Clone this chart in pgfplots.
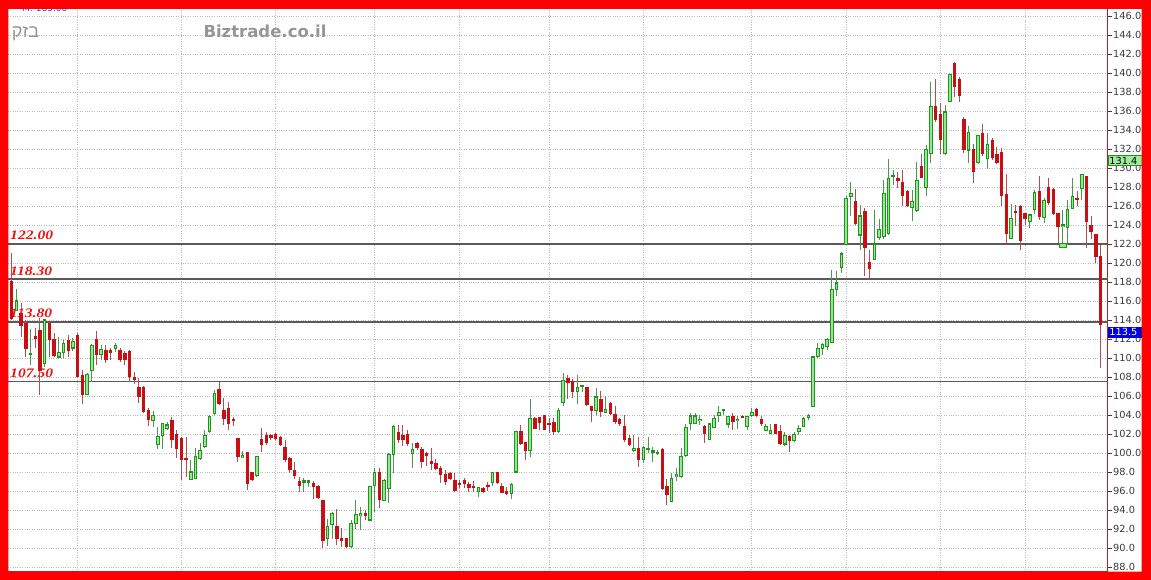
\documentclass[border=0pt]{standalone}
\usepackage{pgfplots}
\pgfplotsset{compat=1.18}
\usepackage{pgfplotstable}
\usepackage{fontspec}
\setmainfont{DejaVu Sans}
\newfontfamily\levelfont[FakeStretch=1.2]{Liberation Serif}
\newfontfamily\hebfont[Script=Hebrew]{Liberation Sans}
\TeXXeTstate=1
\definecolor{upfill}{RGB}{150,230,150}
\definecolor{upedge}{RGB}{30,150,30}
\definecolor{downfill}{RGB}{200,15,20}
\definecolor{wickred}{RGB}{170,80,80}
\definecolor{wickgreen}{RGB}{80,150,80}
\definecolor{gridgray}{RGB}{185,185,185}
\definecolor{levelgray}{RGB}{90,90,90}
\definecolor{axisred}{RGB}{200,30,30}
\definecolor{tickgray}{RGB}{60,60,60}
\definecolor{levelred}{RGB}{235,20,20}
\definecolor{borderred}{RGB}{255,0,0}
\definecolor{wmgray}{RGB}{150,150,150}
\definecolor{boxgreen}{RGB}{160,235,160}
\definecolor{boxblue}{RGB}{0,0,225}

\pgfplotstableread{
k o h l c
0 118.1 121.1 114.0 114.2
1 115.0 117.3 114.9 116.0
2 114.7 115.8 112.2 113.4
3 113.6 114.0 110.1 111.0
4 110.4 113.1 109.3 110.5
5 112.3 113.2 111.0 112.0
6 112.9 114.2 106.1 108.7
7 109.4 114.0 109.1 114.0
8 113.6 113.8 110.1 111.9
9 111.9 112.6 110.1 110.3
10 110.1 112.2 110.0 110.6
11 110.6 111.9 110.0 111.5
12 111.8 112.4 110.1 110.8
13 111.05 112.1 110.7 111.7
14 112.4 112.6 107.9 108.0
15 108.2 108.7 105.2 106.2
16 106.2 108.4 106.1 108.3
17 108.7 111.5 107.5 111.3
18 111.9 112.8 109.3 110.4
19 110.4 111.4 109.8 110.9
20 110.8 111.4 109.5 109.8
21 110.8 111.0 109.8 110.6
22 111.0 111.6 110.6 111.3
23 110.8 111.0 109.6 109.8
24 110.5 110.7 109.3 109.8
25 110.7 110.8 107.5 108.0
26 108.0 108.5 107.3 107.7
27 106.9 107.9 105.3 105.9
28 106.9 107.0 104.2 104.35
29 104.5 104.7 102.8 103.5
30 103.4 104.4 102.7 103.9
31 100.85 102.7 100.4 101.7
32 101.8 103.2 100.4 103.1
33 102.55 103.3 102.4 102.95
34 103.4 103.8 100.5 101.4
35 101.9 102.4 99.45 100.5
36 101.55 101.7 97.2 99.3
37 99.4 101.7 97.5 99.3
38 97.2 99.3 97.2 98.0
39 97.3 100.5 97.3 99.6
40 99.45 101.0 99.3 100.25
41 100.7 102.4 100.5 101.8
42 102.25 104.0 102.1 103.8
43 104.2 106.6 104.0 106.3
44 106.7 107.44 105.05 105.2
45 104.5 105.75 102.95 103.65
46 104.7 105.4 102.4 103.1
47 103.55 103.75 102.8 103.45
48 101.55 101.6 99.0 99.6
49 99.55 100.25 99.5 99.7
50 100.0 100.1 96.1 96.8
51 97.9 98.0 97.1 97.2
52 97.6 99.7 97.5 99.6
53 101.45 102.6 100.15 100.85
54 101.8 102.25 100.85 101.1
55 101.8 102.0 101.35 101.6
56 101.9 102.15 101.4 101.55
57 101.6 101.8 100.7 100.85
58 100.6 101.4 99.1 99.3
59 99.45 99.6 97.9 98.3
60 98.2 99.1 97.3 97.6
61 97.0 97.5 95.9 96.6
62 96.95 97.35 95.9 97.05
63 96.95 97.15 96.45 97.05
64 96.8 97.0 95.2 96.45
65 96.5 96.6 95.2 95.3
66 94.98 95.05 89.95 90.8
67 91.0 93.1 90.2 92.3
68 92.5 93.8 90.9 93.65
69 92.25 94.1 90.3 91.0
70 91.0 92.05 90.1 90.8
71 91.0 91.05 90.0 90.2
72 90.2 92.95 89.95 92.6
73 92.6 95.05 92.0 93.5
74 93.4 94.35 91.9 93.6
75 93.65 94.0 92.95 93.4
76 92.95 96.55 92.9 96.5
77 96.6 98.4 93.8 97.9
78 97.9 98.4 94.2 95.05
79 95.0 97.3 94.9 97.1
80 96.3 99.97 94.7 99.8
81 99.8 102.95 97.9 102.8
82 102.14 102.95 101.0 101.44
83 101.86 102.95 100.7 101.37
84 101.9 102.4 100.7 100.95
85 99.9 101.0 98.4 100.4
86 101.0 101.2 100.3 100.6
87 100.4 100.6 98.4 99.1
88 99.9 100.1 98.6 99.75
89 99.1 100.5 98.2 98.9
90 98.9 99.4 98.2 98.4
91 98.4 98.6 96.8 97.7
92 97.7 98.2 96.6 97.0
93 97.8 98.0 97.2 97.3
94 97.1 97.9 95.9 96.1
95 96.75 97.2 96.3 96.7
96 97.1 97.35 96.3 96.8
97 96.7 96.95 95.9 96.4
98 96.5 97.1 95.9 96.4
99 95.9 96.45 95.4 96.4
100 96.3 96.45 95.8 95.9
101 96.55 96.95 96.0 96.5
102 96.9 98.0 96.5 97.9
103 97.9 98.0 96.7 96.9
104 96.5 96.8 95.75 95.8
105 95.9 96.45 95.6 95.75
106 95.7 96.8 95.2 96.7
107 98.0 102.35 98.0 102.3
108 102.3 102.95 100.85 100.95
109 101.1 101.2 99.3 100.25
110 100.25 105.65 99.6 103.65
111 103.65 103.8 102.5 102.6
112 103.75 103.8 102.4 103.2
113 103.9 103.95 102.4 102.5
114 103.1 103.65 102.1 102.95
115 103.2 103.65 101.9 102.25
116 102.25 104.7 102.14 104.5
117 105.3 108.4 104.9 107.6
118 107.86 108.2 105.65 107.4
119 107.5 107.75 105.75 106.5
120 106.5 108.2 105.2 106.9
121 107.0 107.2 106.45 107.05
122 106.9 106.98 104.9 105.05
123 104.9 104.95 103.3 104.5
124 104.5 106.8 104.0 105.9
125 105.6 106.56 103.8 104.35
126 104.25 106.0 104.2 104.6
127 105.2 105.4 104.0 104.1
128 104.0 104.9 103.0 103.3
129 103.5 103.65 102.85 103.1
130 102.8 104.0 101.2 101.4
131 101.55 101.9 100.7 100.85
132 100.25 101.9 100.15 100.5
133 100.5 101.65 98.5 99.3
134 99.3 100.7 98.9 100.6
135 100.35 101.65 99.95 100.45
136 100.1 100.6 99.1 100.2
137 99.95 100.3 99.8 100.05
138 100.4 100.5 96.1 96.3
139 96.5 97.3 94.5 95.6
140 94.9 97.9 94.8 97.3
141 97.5 98.4 97.1 97.7
142 97.5 100.5 97.4 99.6
143 99.7 103.1 99.6 102.7
144 103.1 104.25 102.4 103.9
145 103.1 104.2 103.05 103.9
146 103.4 104.0 102.95 103.55
147 102.8 102.95 101.1 102.0
148 101.4 103.1 101.35 103.05
149 102.7 104.0 102.6 103.65
150 104.0 104.9 103.3 104.25
151 104.45 104.6 104.0 104.55
152 103.05 103.9 102.6 103.8
153 103.8 104.2 102.4 103.3
154 103.4 103.9 102.5 103.55
155 103.85 104.0 103.65 103.75
156 102.8 103.9 102.4 103.8
157 103.9 104.7 103.8 104.25
158 104.6 104.7 103.75 103.9
159 103.5 103.85 102.8 103.05
160 102.35 103.1 102.3 102.8
161 102.1 103.05 102.0 102.4
162 102.95 103.1 102.05 102.1
163 102.25 102.95 100.85 100.95
164 100.95 102.25 100.75 101.8
165 101.7 101.9 100.1 101.3
166 101.3 102.25 101.2 101.9
167 102.25 102.95 101.9 102.6
168 102.8 103.8 102.7 103.65
169 103.75 104.1 103.45 103.95
170 104.9 110.2 104.9 110.1
171 110.2 111.6 109.96 111.0
172 111.0 111.6 110.3 111.4
173 111.2 112.1 110.8 111.9
174 111.6 119.3 111.55 117.2
175 117.2 119.2 116.5 117.9
176 119.5 121.2 118.9 120.95
177 121.9 127.0 121.9 126.8
178 127.05 128.5 124.9 127.3
179 126.5 127.75 124.0 124.2
180 122.95 126.1 121.4 124.95
181 125.4 125.8 118.6 121.65
182 120.1 121.4 118.3 119.4
183 120.4 125.6 120.3 122.0
184 122.7 124.6 122.4 123.5
185 122.8 128.7 122.5 127.3
186 123.1 130.9 122.95 128.9
187 129.1 129.8 128.2 129.2
188 128.9 129.6 127.9 128.7
189 128.45 129.8 126.0 127.05
190 127.5 127.7 125.9 126.1
191 125.86 127.7 124.45 126.45
192 125.5 130.6 125.4 128.7
193 130.2 131.5 128.9 129.0
194 127.96 132.4 127.0 131.96
195 131.5 139.1 130.5 136.45
196 136.45 139.4 134.8 135.05
197 135.6 136.8 131.5 132.95
198 131.5 136.6 131.4 135.9
199 137.0 139.9 136.9 139.8
200 141.0 141.2 137.5 138.6
201 139.3 139.6 136.9 137.6
202 135.12 135.4 131.6 131.9
203 131.9 134.4 130.5 133.7
204 131.96 132.5 128.4 129.6
205 130.6 133.5 130.4 133.4
206 133.65 134.6 131.3 131.5
207 131.0 133.65 129.9 132.5
208 132.9 133.2 130.8 131.1
209 131.4 132.2 130.4 130.6
210 131.6 132.1 126.0 127.05
211 127.16 129.4 122.14 123.1
212 122.6 126.2 122.5 124.7
213 125.45 126.1 123.9 125.35
214 125.9 126.1 121.4 122.4
215 125.16 125.2 124.0 124.7
216 124.35 125.2 123.65 125.05
217 125.6 127.7 125.2 127.4
218 127.5 129.2 124.5 124.9
219 124.8 126.8 124.2 126.56
220 127.96 128.9 126.1 126.35
221 127.75 127.85 125.05 125.16
222 125.16 125.2 122.1 123.8
223 123.8 125.6 121.9 124.0
224 123.75 126.6 121.9 125.65
225 125.75 128.9 125.65 126.98
226 126.75 127.6 126.0 126.65
227 127.86 129.3 126.6 129.3
228 129.1 129.1 121.55 124.35
229 124.0 124.9 122.5 123.3
230 122.95 123.1 119.97 120.67
231 120.67 121.9 108.9 113.5
}\candles

\pgfplotsset{
  cbar/.style={draw=none, mark=none, forget plot,
    error bars/y dir=both, error bars/y explicit, error bars/error mark=none},
}

\begin{document}
\begin{tikzpicture}
\useasboundingbox (0,0) rectangle (1151pt,580pt);
\fill[white] (0,0) rectangle (1151pt,580pt);
\begin{axis}[
  at={(7.8pt,8pt)}, anchor=south west,
  scale only axis, width=1099.7pt, height=563.5pt,
  xmin=-0.827, xmax=232.46, ymin=87.47, ymax=146.79,
  axis line style={draw=axisred, line width=1pt},
  ytick={88,90,...,146},
  ytick pos=right, yticklabel pos=right, ytick align=outside,
  major tick length=4pt,
  y tick style={draw=tickgray, line width=0.8pt},
  xtick={14,36,56,77,95,114,134,157,177,197,215},
  xticklabels={},
  x tick style={draw=none},
  xmajorgrids, ymajorgrids,
  grid style={gridgray, dotted, line width=0.8pt},
  /pgf/number format/assume math mode=true,
  yticklabel={\pgfmathprintnumber[fixed,fixed zerofill,precision=1]{\tick}},
  yticklabel style={font=\fontsize{9.8}{10}\selectfont, text=tickgray, anchor=west, inner sep=0pt, xshift=1.5pt},
  clip=true,
]
% support / resistance levels
\addplot[levelgray, line width=1.3pt, forget plot] coordinates {(-2,122) (234,122)};
\addplot[levelgray, line width=1.3pt, forget plot] coordinates {(-2,118.3) (234,118.3)};
\addplot[levelgray, line width=1.3pt, forget plot] coordinates {(-2,113.8) (234,113.8)};
\addplot[levelgray, line width=1.3pt, forget plot] coordinates {(-2,107.5) (234,107.5)};
\node[anchor=base west, inner sep=0pt, text=levelred, font=\levelfont\bfseries\itshape\fontsize{13}{13}\selectfont] at (axis cs:-0.36,122.42) {122.00};
\node[anchor=base west, inner sep=0pt, text=levelred, font=\levelfont\bfseries\itshape\fontsize{13}{13}\selectfont] at (axis cs:-0.36,118.72) {118.30};
\node[anchor=base west, inner sep=0pt, text=levelred, font=\levelfont\bfseries\itshape\fontsize{13}{13}\selectfont] at (axis cs:-0.36,114.22) {113.80};
\node[anchor=base west, inner sep=0pt, text=levelred, font=\levelfont\bfseries\itshape\fontsize{13}{13}\selectfont] at (axis cs:-0.36,107.92) {107.50};
% wicks
\addplot[cbar, restrict expr to domain={\thisrow{c}-\thisrow{o}}{-1000:-0.0001},
  error bars/error bar style={draw=wickred, line width=1pt}]
  table[x=k, y expr={(\thisrow{h}+\thisrow{l})/2}, y error expr={(\thisrow{h}-\thisrow{l})/2}] {\candles};
\addplot[cbar, restrict expr to domain={\thisrow{c}-\thisrow{o}}{0:1000},
  error bars/error bar style={draw=wickgreen, line width=1pt}]
  table[x=k, y expr={(\thisrow{h}+\thisrow{l})/2}, y error expr={(\thisrow{h}-\thisrow{l})/2}] {\candles};
% down bodies
\addplot[cbar, restrict expr to domain={\thisrow{c}-\thisrow{o}}{-1000:-0.0001},
  error bars/error bar style={draw=downfill, line width=3.4pt}]
  table[x=k, y expr={(\thisrow{o}+\thisrow{c})/2}, y error expr={(\thisrow{o}-\thisrow{c})/2+0.05}] {\candles};
% up bodies
\addplot[cbar, restrict expr to domain={\thisrow{c}-\thisrow{o}}{0:1000},
  error bars/error bar style={draw=upedge, line width=3.6pt}]
  table[x=k, y expr={(\thisrow{o}+\thisrow{c})/2}, y error expr={(\thisrow{c}-\thisrow{o})/2+0.06}] {\candles};
\addplot[cbar, restrict expr to domain={\thisrow{c}-\thisrow{o}}{0:1000},
  error bars/error bar style={draw=upfill, line width=1.6pt}]
  table[x=k, y expr={(\thisrow{o}+\thisrow{c})/2}, y error expr={max((\thisrow{c}-\thisrow{o})/2-0.06,0)}] {\candles};
% marker box
\addplot[only marks, mark=square*, mark size=2pt, mark options={fill=upfill, draw=upedge, line width=0.8pt, xscale=1.6}, forget plot] coordinates {(223,121.85)};
\coordinate (b1) at (axis cs:232.46,130.76);
\coordinate (b2) at (axis cs:232.46,112.74);
\end{axis}
\node[anchor=west, fill=boxgreen, draw=upedge, line width=0.6pt, minimum height=10pt, inner ysep=0pt, inner xsep=1.5pt, text width=33pt, align=left, font=\fontsize{9.8}{10}\selectfont, text=black] at (b1) {131.4};
\node[anchor=west, fill=boxblue, draw=boxblue, line width=0.6pt, minimum height=10pt, inner ysep=0pt, inner xsep=1.5pt, text width=33pt, align=left, font=\fontsize{9.8}{10}\selectfont, text=white] at (b2) {113.5};
\node[anchor=base west, inner sep=0pt, text=wmgray, font=\hebfont\fontsize{18}{18}\selectfont] at (11.7pt,542pt) {\beginR בזק\endR};
\node[anchor=base west, inner sep=0pt, text=wmgray, font=\bfseries\fontsize{16.5}{16.5}\selectfont] at (203.3pt,542.5pt) {Biztrade.co.il};
\node[anchor=base west, inner sep=0pt, text=blue!80!white, font=\fontsize{9}{9}\selectfont] at (22pt,568pt) {M: 165.00};
\fill[borderred, even odd rule] (0,0) rectangle (1151pt,580pt) (8.3pt,8.3pt) rectangle (1141.7pt,571pt);
\end{tikzpicture}
\end{document}
